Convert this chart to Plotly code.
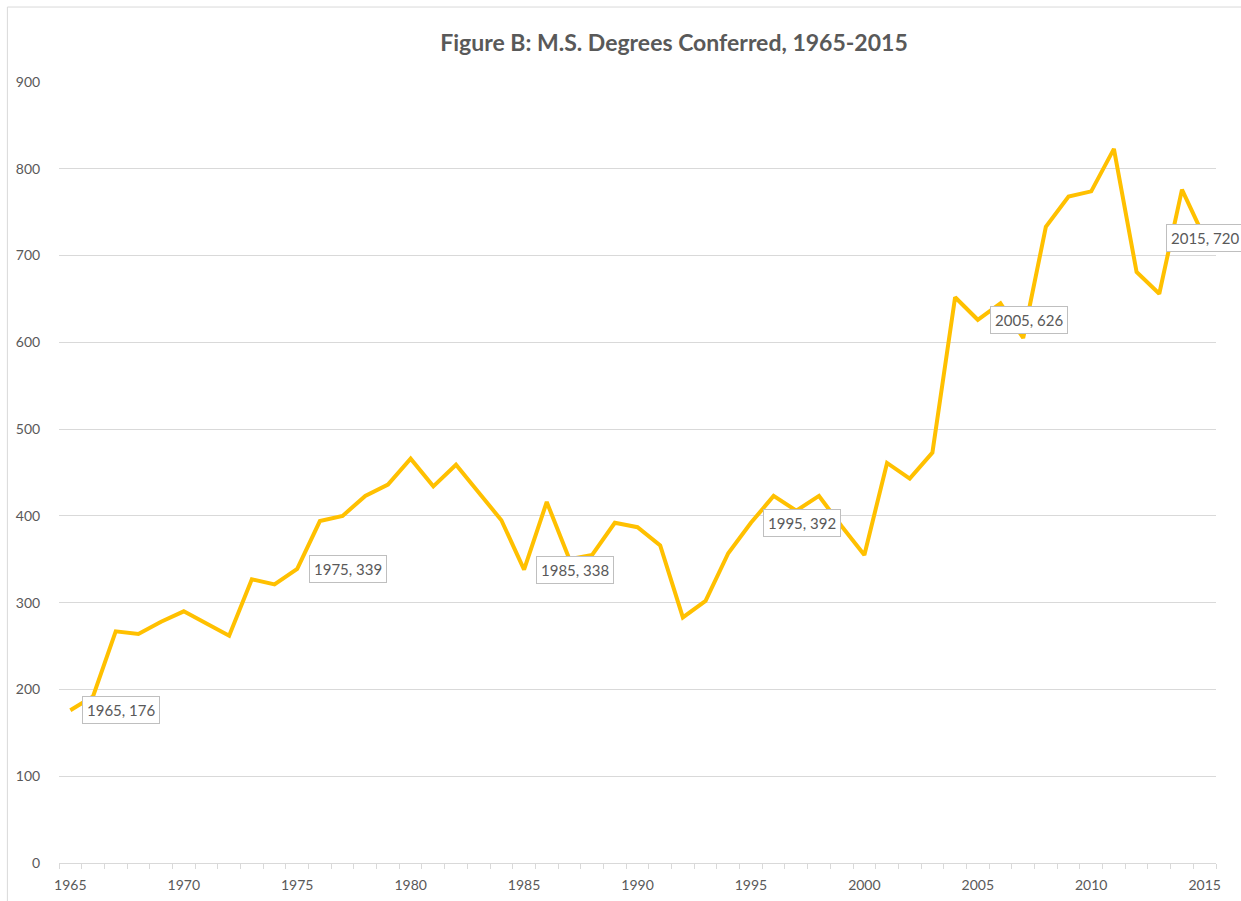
import plotly.graph_objects as go

title_text = "Figure B: M.S. Degrees Conferred, 1965-2015"
years = list(range(1965, 2016))
degrees = [176, 192, 267, 264, 278, 290, 276, 262, 327, 321,
           339, 394, 400, 423, 436, 466, 434, 459, 427, 395,
           338, 416, 350, 355, 392, 387, 366, 283, 302, 357,
           392, 423, 406, 423, 388, 355, 461, 443, 473, 652,
           626, 645, 605, 733, 768, 774, 823, 681, 656, 776,
           720]
label_years = [1965, 1975, 1985, 1995, 2005, 2015]
x_tick_labels = [str(y) for y in range(1965, 2016, 5)]
y_ticks = list(range(0, 901, 100))

LINE = "#FFC000"
GRID = "#D9D9D9"
TXT = "#595959"
FONT = "Lato"

fig = go.Figure()
fig.add_trace(go.Scatter(x=years, y=degrees, mode="lines",
                         line=dict(color=LINE, width=4), hoverinfo="skip",
                         showlegend=False))

for yr in label_years:
    v = degrees[years.index(yr)]
    shift = 12 if yr != 2015 else -39
    fig.add_annotation(x=yr, y=v, xref="x", yref="y", text=f"{yr}, {v}",
                       showarrow=False, xanchor="left", yanchor="middle",
                       xshift=shift, bgcolor="white", bordercolor="#BFBFBF",
                       borderwidth=1, borderpad=4,
                       font=dict(family=FONT, size=15, color=TXT))

# chart-area border (top and left)
fig.add_shape(type="line", xref="paper", yref="paper", x0=-0.0446, x1=1.05,
              y0=1.096, y1=1.096, line=dict(color=GRID, width=1))
fig.add_shape(type="line", xref="paper", yref="paper", x0=-0.0446, x1=-0.0446,
              y0=1.096, y1=-0.08, line=dict(color=GRID, width=1))

fig.update_layout(
    width=1241, height=901,
    margin=dict(l=59, r=25, t=82, b=38, autoexpand=False),
    paper_bgcolor="white", plot_bgcolor="white",
    title=dict(text=f"<b>{title_text}</b>", x=674 / 1241, xanchor="center",
               y=1 - 43 / 901, yanchor="middle", yref="container",
               font=dict(family=FONT, size=23, color=TXT)),
    font=dict(family=FONT, size=14, color=TXT),
)
fig.update_xaxes(range=[1964.5, 2015.5], automargin=False,
                 tickmode="array", tickvals=list(range(1965, 2016, 5)),
                 ticktext=x_tick_labels,
                 ticks="outside", ticklen=9, tickcolor="rgba(0,0,0,0)",
                 showgrid=False, showline=True, linecolor=GRID, linewidth=1,
                 zeroline=False,
                 minor=dict(tickmode="linear", tick0=1964.5, dtick=1,
                            ticks="outside", ticklen=5, tickcolor=GRID,
                            showgrid=False),
                 tickfont=dict(family=FONT, size=14, color=TXT))
fig.update_yaxes(range=[0, 900], automargin=False, tickmode="array",
                 tickvals=y_ticks,
                 showgrid=True, gridcolor=GRID, gridwidth=1,
                 zeroline=False, showline=False,
                 ticks="outside", ticklen=15, tickcolor="rgba(0,0,0,0)",
                 tickfont=dict(family=FONT, size=14, color=TXT))

fig.write_html("out.html", config={"displayModeBar": False},
               post_script="document.body.style.margin='0px';")
